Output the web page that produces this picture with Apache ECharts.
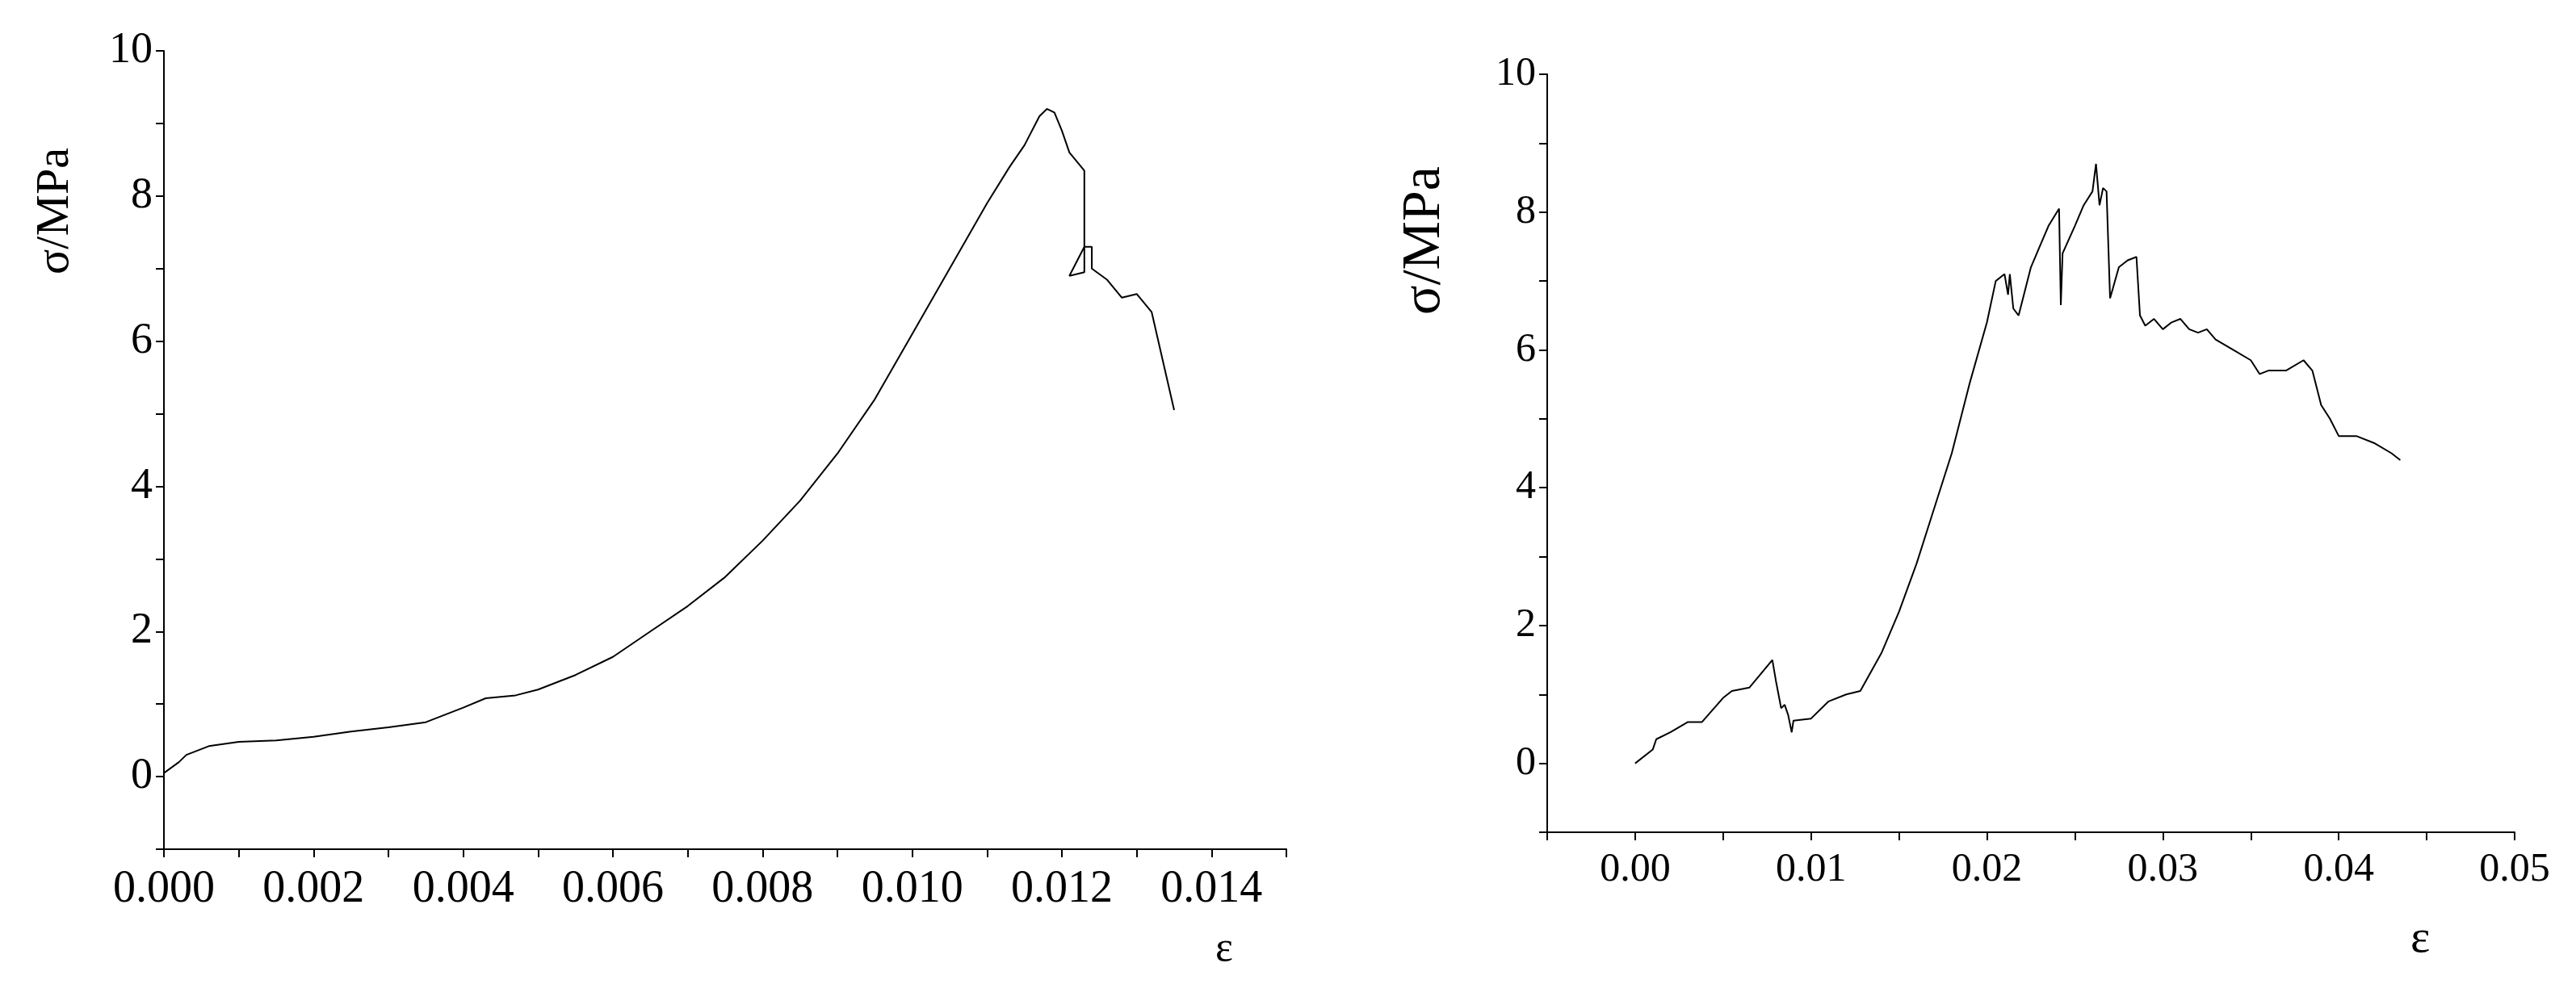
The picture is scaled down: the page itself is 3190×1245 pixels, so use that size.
<!DOCTYPE html>
<html>
<head>
<meta charset="utf-8">
<script src="https://cdn.jsdelivr.net/npm/echarts@6/dist/echarts.min.js"></script>
<style>html,body{margin:0;background:#fff}#c{width:3190px;height:1245px}</style>
</head>
<body>
<div id="c"></div>
<script>
// 左图 应力-应变
var strainA = [0,0.0002,0.0003,0.0006,0.001,0.0015,0.002,0.0025,0.003,0.0035,0.004,0.0043,0.0047,0.005,0.0055,0.006,0.0065,0.007,0.0075,0.008,0.0085,0.009,0.0095,0.01,0.0105,0.011,0.0113,0.0115,0.0117,0.0118,0.0119,0.012,0.0121,0.0123,0.0123,0.0121,0.0122,0.0123,0.0124,0.0124,0.0126,0.0128,0.013,0.0132,0.0135];
var stressA = [0.05,0.2,0.3,0.42,0.48,0.5,0.55,0.62,0.68,0.75,0.95,1.08,1.12,1.2,1.4,1.65,2.0,2.35,2.75,3.25,3.8,4.45,5.2,6.1,7.0,7.9,8.4,8.7,9.1,9.2,9.15,8.9,8.6,8.35,6.95,6.9,7.1,7.3,7.3,7.0,6.85,6.6,6.65,6.4,5.05];
// 右图 应力-应变
var strainB = [0,0.001,0.0012,0.002,0.003,0.0038,0.005,0.0055,0.0065,0.0078,0.008,0.0083,0.0085,0.0087,0.0089,0.009,0.01,0.011,0.012,0.0128,0.014,0.015,0.016,0.017,0.018,0.019,0.02,0.0205,0.021,0.0212,0.0213,0.0215,0.0218,0.0225,0.023,0.0235,0.0241,0.0242,0.0243,0.025,0.0255,0.026,0.0262,0.0264,0.0266,0.0268,0.027,0.0275,0.028,0.0285,0.0287,0.029,0.0295,0.03,0.0305,0.031,0.0315,0.032,0.0325,0.033,0.034,0.035,0.0355,0.036,0.037,0.038,0.0385,0.039,0.0395,0.04,0.041,0.042,0.043,0.0435];
var stressB = [0,0.2,0.35,0.45,0.6,0.6,0.95,1.05,1.1,1.5,1.2,0.8,0.85,0.7,0.45,0.62,0.65,0.9,1.0,1.05,1.6,2.2,2.9,3.7,4.5,5.5,6.4,7.0,7.1,6.8,7.1,6.6,6.5,7.2,7.5,7.8,8.05,6.65,7.4,7.8,8.1,8.3,8.7,8.1,8.35,8.3,6.75,7.2,7.3,7.35,6.5,6.35,6.45,6.3,6.4,6.45,6.3,6.25,6.3,6.15,6.0,5.85,5.65,5.7,5.7,5.85,5.7,5.2,5.0,4.75,4.75,4.65,4.5,4.4];

function pairs(xs, ys) { return xs.map(function (x, i) { return [x, ys[i]]; }); }

var font = 'Liberation Serif';
var axisStyle = {
  axisLine: { onZero: false, lineStyle: { color: '#000', width: 2 } },
  axisTick: { length: 10, lineStyle: { color: '#000', width: 2 } },
  splitLine: { show: false }
};
function xAxis(idx, min, max, interval, size, fmt) {
  return Object.assign({
    gridIndex: idx, type: 'value', min: min, max: max, interval: interval,
    axisLabel: { color: '#000', fontFamily: font, fontSize: size, margin: 22, formatter: fmt }
  }, axisStyle);
}
function yAxis(idx, size) {
  return Object.assign({
    gridIndex: idx, type: 'value', min: -1, max: 10, interval: 1,
    axisLabel: { color: '#000', fontFamily: font, fontSize: size, margin: 14,
      formatter: function (v) { return (v >= 0 && v % 2 === 0) ? String(v) : ''; } }
  }, axisStyle);
}

var chart = echarts.init(document.getElementById('c'));
chart.setOption({
  animation: false,
  grid: [
    { left: 203, top: 63, width: 1390, height: 989 },
    { left: 1916, top: 92, width: 1198, height: 939 }
  ],
  xAxis: [
    xAxis(0, 0, 0.015, 0.001, 56, function (v) { var k = Math.round(v * 1000); return k % 2 === 0 ? v.toFixed(3) : ''; }),
    xAxis(1, -0.005, 0.05, 0.005, 50, function (v) { var k = Math.round(v * 1000); return (k >= 0 && k % 10 === 0) ? v.toFixed(2) : ''; })
  ],
  yAxis: [yAxis(0, 54), yAxis(1, 50)],
  graphic: [
    { type: 'text', x: 1505, y: 1150, style: { text: 'ε', font: '52px "Liberation Serif"', fill: '#000' } },
    { type: 'text', x: 2985, y: 1135, style: { text: 'ε', font: '58px "Liberation Serif"', fill: '#000' } },
    { type: 'text', x: 40, y: 340, rotation: Math.PI / 2, style: { text: 'σ/MPa', font: '58px "Liberation Serif"', fill: '#000' } },
    { type: 'text', x: 1730, y: 390, rotation: Math.PI / 2, style: { text: 'σ/MPa', font: '68px "Liberation Serif"', fill: '#000' } }
  ],
  series: [
    { type: 'line', xAxisIndex: 0, yAxisIndex: 0, data: pairs(strainA, stressA), showSymbol: false, lineStyle: { color: '#000', width: 2 } },
    { type: 'line', xAxisIndex: 1, yAxisIndex: 1, data: pairs(strainB, stressB), showSymbol: false, lineStyle: { color: '#000', width: 2 } }
  ]
});
</script>
</body>
</html>
